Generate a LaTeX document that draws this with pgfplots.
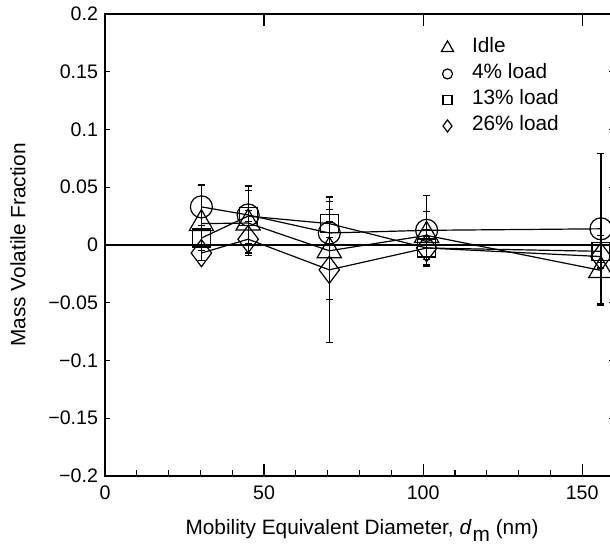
\documentclass[border=0pt]{standalone}
\usepackage{fontspec}
\setmainfont{Liberation Sans}
\usepackage{pgfplots}
\pgfplotsset{compat=1.18}
\pgfplotsset{myleg/.style={legend image code/.code={\draw[##1, mark size=#1] plot coordinates {(0pt,0pt)}; \path (-6pt,0pt) (6pt,0pt);}}}
\pgfplotstableread{
x y e
30.3 0.0185 0.005
45.0 0.0190 0.028
70.5 -0.0050 0.0425
101.1 0.0083 0.021
155.9 -0.0220 0.030
}\idle
\pgfplotstableread{
x y e
30.3 0.0330 0.019
45.0 0.0260 0.025
70.5 0.0104 0.010
101.1 0.0127 0.030
155.9 0.0140 0.065
}\four
\pgfplotstableread{
x y e
30.3 0.0060 0.011
45.0 0.0250 0.005
70.5 0.0185 0.012
101.1 -0.0026 0.016
155.9 -0.0055 0.010
}\thirteen
\pgfplotstableread{
x y e
30.3 -0.0070 0.0066
45.0 0.0050 0.012
70.5 -0.0215 0.063
101.1 -0.0026 0.010
155.9 -0.0100 0.010
}\twentysix
\begin{document}
\begin{tikzpicture}[font=\fontsize{10.4}{12.5}\selectfont]
\begin{axis}[
  scale only axis, width=254.5pt, height=231pt,
  xmin=0, xmax=160, ymin=-0.2, ymax=0.2,
  axis line style={line width=0.75pt},
  every tick/.style={black, line width=0.6pt},
  tick align=inside,
  major tick length=6pt, minor tick length=3pt,
  xtick={0,50,100,150}, xticklabels={0,50,100,150},
  minor x tick num=4, xtick pos=bottom,
  ytick={-0.2,-0.15,-0.1,-0.05,0,0.05,0.1,0.15,0.2},
  yticklabels={−0.2,−0.15,−0.1,−0.05,0,0.05,0.1,0.15,0.2},
  ytick pos=both,
  ytick style={/pgfplots/major tick length=2.5pt},
  tick label style={font=\fontsize{9.8}{11.5}\selectfont},
  xticklabel style={yshift=-1.5pt},
  /pgf/number format/assume math mode=true,
  xlabel={Mobility Equivalent Diameter, \textit{d}\kern0.5pt\raisebox{-3.5pt}{m} (nm)},
  xlabel style={at={(axis description cs:0.505,-0.127)}, anchor=base},
  ylabel={Mass Volatile Fraction},
  ylabel style={at={(axis description cs:-0.171,0.5)}, anchor=center},
  legend cell align=left,
  legend style={draw=none, fill=none, at={(axis cs:103.7,0.181)}, anchor=north west,
    inner sep=0pt, outer sep=0pt, row sep=1pt, column sep=5pt,
    nodes={inner sep=1pt, text height=7.5pt, text depth=2.5pt}},
  every axis plot/.append style={black, line width=0.6pt, mark options={solid}},
  error bars/y dir=both, error bars/y explicit,
  error bars/error bar style={line width=0.6pt},
  error bars/error mark options={rotate=90, mark size=1.75pt, line width=0.6pt},
]
\addplot[forget plot, line width=0.6pt, no marks] coordinates {(0,0) (160,0)};
\addplot[mark=triangle, mark size=7pt, myleg=3.5pt] table[x=x, y=y, y error=e] {\idle};
\addlegendentry{Idle}
\addplot[mark=o, mark size=5.5pt, myleg=2.5pt] table[x=x, y=y, y error=e] {\four};
\addlegendentry{4\% load}
\addplot[mark=square, mark size=4.5pt, myleg=2.25pt] table[x=x, y=y, y error=e] {\thirteen};
\addlegendentry{13\% load}
\addplot[mark=diamond, mark size=6.8pt, myleg=3pt] table[x=x, y=y, y error=e] {\twentysix};
\addlegendentry{26\% load}
\draw[line width=0.6pt] (axis cs:50,0.2) -- ++(0pt,-6pt);
\draw[line width=0.6pt] (axis cs:100,0.2) -- ++(0pt,-6pt);
\draw[line width=0.6pt] (axis cs:150,0.2) -- ++(0pt,-6pt);
\end{axis}
\pgfresetboundingbox
\path[use as bounding box] ([xshift=-52.5pt,yshift=-34pt]current axis.south west) rectangle ([xshift=-2pt,yshift=7pt]current axis.north east);
\end{tikzpicture}
\end{document}
